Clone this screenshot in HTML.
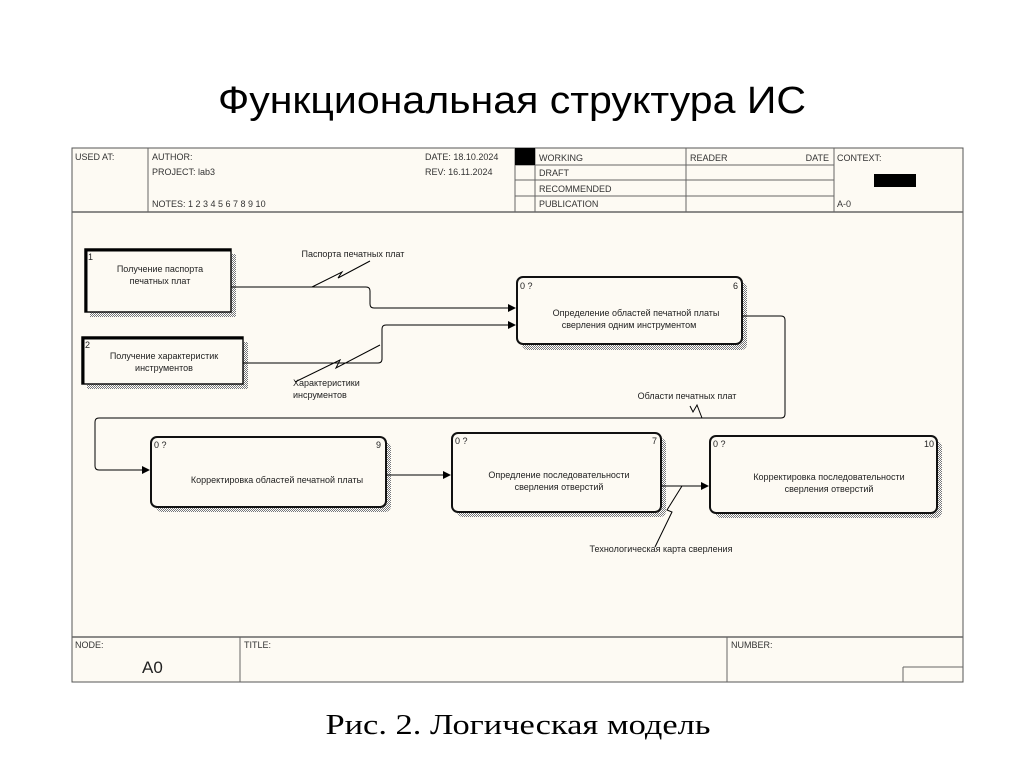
<!DOCTYPE html>
<html><head><meta charset="utf-8"><style>
html,body{margin:0;padding:0;background:#fff;width:1024px;height:767px;overflow:hidden}
svg{display:block}
</style></head><body>
<svg width="1024" height="767" viewBox="0 0 1024 767" xmlns="http://www.w3.org/2000/svg" font-family="Liberation Sans, sans-serif">
<defs>
<pattern id="sh" width="2" height="2" patternUnits="userSpaceOnUse"><rect width="2" height="2" fill="#fff"/><rect width="1" height="1" fill="#777"/><rect x="1" y="1" width="1" height="1" fill="#777"/></pattern>
<marker id="ar" markerWidth="8" markerHeight="8" refX="7" refY="4" orient="auto" markerUnits="userSpaceOnUse"><path d="M0,0 L8,4 L0,8 Z" fill="#000"/></marker>
</defs>
<text x="512" y="113" text-anchor="middle" font-size="38" textLength="588" lengthAdjust="spacingAndGlyphs" fill="#000">Функциональная структура ИС</text>
<rect x="72" y="148" width="891" height="534" fill="#fdfaf3" stroke="#555" stroke-width="1"/>
<!-- header -->
<g stroke="#666" stroke-width="1" fill="none">
<line x1="72" y1="212" x2="963" y2="212" stroke-width="1.5"/>
<line x1="148" y1="148" x2="148" y2="212"/>
<line x1="515" y1="148" x2="515" y2="212"/>
<line x1="535" y1="148" x2="535" y2="212"/>
<line x1="686" y1="148" x2="686" y2="212"/>
<line x1="834" y1="148" x2="834" y2="212"/>
<line x1="515" y1="165" x2="834" y2="165"/>
<line x1="515" y1="180" x2="834" y2="180"/>
<line x1="515" y1="196" x2="834" y2="196"/>
</g>
<rect x="515" y="148" width="20" height="17" fill="#000"/>
<rect x="874" y="174" width="42" height="13" fill="#000"/>
<g font-size="9" fill="#333">
<text x="75" y="160">USED AT:</text>
<text x="152" y="160">AUTHOR:</text>
<text x="152" y="175">PROJECT:  lab3</text>
<text x="152" y="207">NOTES:  1  2  3  4  5  6  7  8  9  10</text>
<text x="425" y="160">DATE:  18.10.2024</text>
<text x="425" y="175">REV:    16.11.2024</text>
<text x="539" y="161">WORKING</text>
<text x="539" y="176">DRAFT</text>
<text x="539" y="192">RECOMMENDED</text>
<text x="539" y="207">PUBLICATION</text>
<text x="690" y="161">READER</text>
<text x="829" y="161" text-anchor="end">DATE</text>
<text x="837" y="161">CONTEXT:</text>
<text x="837" y="207">A-0</text>
</g>
<!-- footer -->
<g stroke="#666" fill="none">
<line x1="72" y1="637" x2="963" y2="637" stroke-width="1.5"/>
<line x1="240" y1="637" x2="240" y2="682"/>
<line x1="727" y1="637" x2="727" y2="682"/>
<line x1="903" y1="667" x2="963" y2="667"/>
<line x1="903" y1="667" x2="903" y2="682"/>
</g>
<g font-size="9" fill="#333">
<text x="75" y="648">NODE:</text>
<text x="244" y="648">TITLE:</text>
<text x="731" y="648">NUMBER:</text>
</g>
<text x="142" y="673" font-size="17" fill="#222">A0</text>
<!-- shadows -->
<g fill="url(#sh)">
<rect x="90" y="254" width="146" height="63"/>
<rect x="87" y="342" width="161" height="47"/>
<rect x="522" y="282" width="225" height="68" rx="6"/>
<rect x="156" y="442" width="235" height="70" rx="6"/>
<rect x="457" y="438" width="209" height="79" rx="6"/>
<rect x="715" y="441" width="227" height="77" rx="6"/>
</g>
<!-- boxes -->
<g fill="#fdfaf3" stroke="#111">
<rect x="85" y="249" width="146" height="63" stroke-width="1.5"/>
<rect x="82" y="337" width="161" height="47" stroke-width="1.5"/>
<rect x="517" y="277" width="225" height="67" rx="6" stroke-width="2"/>
<rect x="151" y="437" width="235" height="70" rx="6" stroke-width="2"/>
<rect x="452" y="433" width="209" height="79" rx="6" stroke-width="2"/>
<rect x="710" y="436" width="227" height="77" rx="6" stroke-width="2"/>
</g>
<g stroke="#000" stroke-width="3"><line x1="86" y1="249" x2="86" y2="312"/><line x1="85" y1="250" x2="231" y2="250"/><line x1="83" y1="337" x2="83" y2="384"/><line x1="82" y1="338" x2="243" y2="338"/></g>
<g font-size="9" fill="#222" text-anchor="middle">
<text x="88" y="260" text-anchor="start">1</text>
<text x="160" y="272">Получение паспорта</text><text x="160" y="284">печатных плат</text>
<text x="85" y="348" text-anchor="start">2</text>
<text x="164" y="359">Получение характеристик</text><text x="164" y="371">инструментов</text>
<text x="520" y="289" text-anchor="start">0 ?</text><text x="738" y="289" text-anchor="end">6</text>
<text x="636" y="316">Определение областей печатной платы</text><text x="629" y="328">сверления одним инструментом</text>
<text x="154" y="448" text-anchor="start">0 ?</text><text x="381" y="448" text-anchor="end">9</text>
<text x="277" y="483">Корректировка областей печатной платы</text>
<text x="455" y="444" text-anchor="start">0 ?</text><text x="657" y="444" text-anchor="end">7</text>
<text x="559" y="478">Опредление последовательности</text><text x="559" y="490">сверления отверстий</text>
<text x="713" y="447" text-anchor="start">0 ?</text><text x="934" y="447" text-anchor="end">10</text>
<text x="829" y="480">Корректировка последовательности</text><text x="829" y="492">сверления отверстий</text>
<text x="353" y="257">Паспорта печатных плат</text>
<text x="293" y="386" text-anchor="start">Характеристики</text><text x="293" y="398" text-anchor="start">инсрументов</text>
<text x="687" y="399">Области печатных плат</text>
<text x="661" y="552">Технологическая карта сверления</text>
</g>
<!-- arrows -->
<g stroke="#000" stroke-width="1" fill="none">
<path d="M231,287 H366 Q370,287 370,291 V304 Q370,308 374,308 H515" marker-end="url(#ar)"/>
<path d="M243,363 H378 Q382,363 382,359 V329 Q382,325 386,325 H515" marker-end="url(#ar)"/>
<path d="M742,316 H781 Q785,316 785,320 V414 Q785,418 781,418 H99 Q95,418 95,422 V466 Q95,470 99,470 H149" marker-end="url(#ar)"/>
<path d="M386,475 H450" marker-end="url(#ar)"/>
<path d="M661,486 H708" marker-end="url(#ar)"/>
<path d="M312,287 L342,272 L338,278 L370,261"/>
<path d="M295,382 L340,360 L336,368 L380,345"/>
<path d="M690,406 L693,412 L697,405 L702,418"/>
<path d="M682,486 L667,510 L672,512 L655,547"/>
</g>
<text x="518" y="734" text-anchor="middle" font-family="Liberation Serif, serif" font-size="29" textLength="385" lengthAdjust="spacingAndGlyphs" fill="#000">Рис. 2. Логическая модель</text>
</svg>
</body></html>
